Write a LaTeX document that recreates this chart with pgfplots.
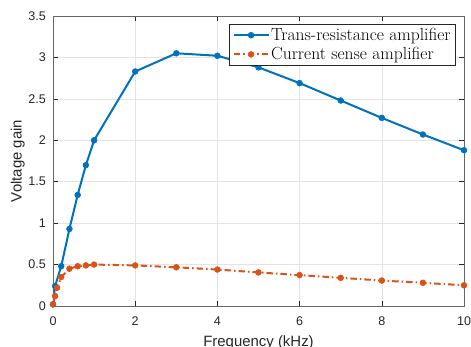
\documentclass[border=0pt]{standalone}
\usepackage{pgfplots}
\pgfplotsset{compat=1.18}
\usepackage{fontspec}
\newfontfamily\arial{Liberation Sans}
\definecolor{mblue}{RGB}{0,114,189}
\definecolor{morange}{RGB}{217,83,25}
\definecolor{axgray}{RGB}{38,38,38}
\begin{document}
\begin{tikzpicture}
\begin{axis}[
  name=ax, at={(0,0)}, anchor=south west,
  scale only axis, width=411bp, height=290bp,
  xmin=0, xmax=10, ymin=0, ymax=3.5,
  xtick={0,2,...,10}, ytick={0,0.5,...,3.5},
  grid=major, grid style={gray!22, line width=0.6bp},
  axis line style={axgray!70, line width=0.6bp},
  tick style={axgray, line width=0.6bp},
  tick align=inside, major tick length=5bp,
  /pgf/number format/assume math mode=true,
  ticklabel style={font=\arial\fontsize{12.6}{14}\selectfont, text=axgray, inner sep=0pt},
  yticklabel style={xshift=-7bp},
  xticklabel style={yshift=-10.5bp},
  xlabel={Frequency (kHz)}, ylabel={Voltage gain},
  label style={font=\arial\fontsize{15}{17}\selectfont, text=axgray},
  xlabel style={at={(axis description cs:0.5,0)}, anchor=base, yshift=-40bp},
  ylabel style={at={(axis description cs:-0.0762,0.5)}, anchor=base},
  legend style={at={(rel axis cs:0.9805,0.9707)}, anchor=north east,
    font=\fontsize{17.6}{19}\selectfont, draw=axgray, line width=0.6bp,
    fill=white, inner xsep=3.5bp, inner ysep=0.8bp, row sep=0pt, column sep=0pt,
    cells={anchor=west},
    nodes={inner xsep=1.5bp, inner ysep=2.7bp}},
  every legend image post/.style={line width=2bp},
  legend image code/.code={\draw[mark repeat=2,mark phase=2,#1] plot coordinates {(0bp,0bp) (17.5bp,0bp) (35bp,0bp)};},
]
\addplot[color=mblue, line width=2bp, mark=*, mark size=2.9bp, mark options={solid, line width=0.6bp}]
  coordinates {(0,0.02) (0.05,0.24) (0.2,0.48) (0.4,0.93) (0.6,1.34) (0.8,1.70) (1,2.0)
  (2,2.83) (3,3.05) (4,3.02) (5,2.88) (6,2.69) (7,2.48) (8,2.27) (9,2.07) (10,1.88)};
\addlegendentry{Trans-resistance amplifier}
\addplot[color=morange, line width=2bp, dash pattern=on 6.5bp off 3bp on 1.5bp off 3bp, mark=*, mark size=2.9bp, mark options={solid, line width=0.6bp}]
  coordinates {(0,0.02) (0.05,0.12) (0.1,0.22) (0.2,0.35) (0.4,0.45) (0.6,0.48) (0.8,0.49) (1,0.50)
  (2,0.49) (3,0.467) (4,0.44) (5,0.405) (6,0.373) (7,0.34) (8,0.307) (9,0.28) (10,0.25)};
\addlegendentry{Current sense amplifier}
\end{axis}
\pgfresetboundingbox
\path[use as bounding box] (-53bp,-41bp) rectangle (418bp,306bp);
\end{tikzpicture}
\end{document}
